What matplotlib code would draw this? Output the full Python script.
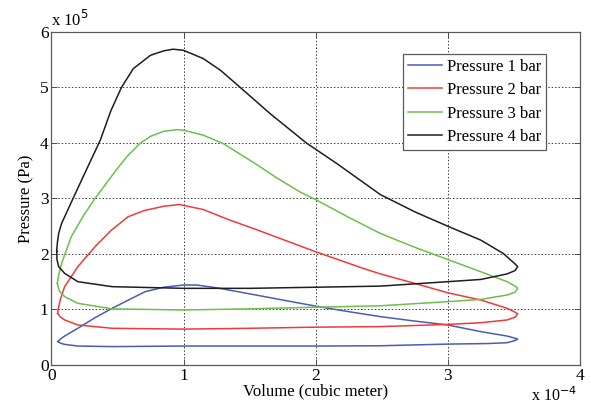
import matplotlib.pyplot as plt
from matplotlib.ticker import FuncFormatter, MultipleLocator

# PV loops, volume in 1e-4 m^3 and pressure in 1e5 Pa
vol_1bar = [0.05, 0.07, 0.1, 0.2, 0.33, 0.46, 0.6, 0.71, 0.85, 1.0, 1.1, 1.25, 1.48, 1.75,
            2.0, 2.25, 2.49, 2.75, 3.0, 3.25, 3.45, 3.51, 3.53,
            3.51, 3.45, 3.3, 3.0, 2.49, 2.0, 1.5, 1.0, 0.46, 0.2, 0.1, 0.07, 0.05]
pres_1bar = [0.42, 0.47, 0.52, 0.66, 0.85, 1.02, 1.19, 1.32, 1.40, 1.44, 1.44, 1.39, 1.29, 1.17,
             1.06, 0.96, 0.87, 0.79, 0.72, 0.60, 0.52, 0.48, 0.465,
             0.44, 0.40, 0.385, 0.375, 0.345, 0.34, 0.34, 0.34, 0.33, 0.34, 0.37, 0.39, 0.42]

vol_2bar = [0.047, 0.055, 0.07, 0.1, 0.2, 0.33, 0.45, 0.58, 0.7, 0.85, 0.97, 1.15, 1.35, 1.55,
            1.73, 2.0, 2.36, 2.49, 2.75, 3.0, 3.25, 3.45, 3.51, 3.53,
            3.51, 3.45, 3.25, 3.0, 2.49, 2.0, 1.5, 1.0, 0.46, 0.2, 0.1, 0.065, 0.047]
pres_2bar = [0.93, 1.05, 1.20, 1.41, 1.77, 2.13, 2.42, 2.67, 2.78, 2.86, 2.89, 2.80, 2.61, 2.44,
             2.28, 2.04, 1.74, 1.64, 1.47, 1.30, 1.17, 1.02, 0.95, 0.92,
             0.86, 0.81, 0.76, 0.73, 0.69, 0.68, 0.66, 0.645, 0.66, 0.72, 0.81, 0.87, 0.93]

vol_3bar = [0.045, 0.055, 0.077, 0.15, 0.24, 0.33, 0.49, 0.57, 0.67, 0.75, 0.85, 0.95, 1.0,
            1.15, 1.3, 1.555, 1.7, 1.88, 2.0, 2.25, 2.49, 2.75, 3.0, 3.25, 3.45, 3.51, 3.53,
            3.51, 3.45, 3.25, 3.0, 2.49, 2.0, 1.5, 1.0, 0.46, 0.2, 0.1, 0.06, 0.045]
pres_3bar = [1.47, 1.62, 1.83, 2.31, 2.68, 3.0, 3.51, 3.75, 3.99, 4.12, 4.21, 4.24, 4.23,
             4.14, 3.99, 3.61, 3.38, 3.12, 2.98, 2.66, 2.37, 2.12, 1.90, 1.68, 1.50, 1.42, 1.38,
             1.31, 1.26, 1.18, 1.14, 1.065, 1.04, 1.01, 0.99, 1.01, 1.11, 1.23, 1.33, 1.47]

vol_4bar = [0.04, 0.045, 0.055, 0.077, 0.16, 0.24, 0.37, 0.45, 0.53, 0.62, 0.75, 0.85, 0.92,
            1.0, 1.15, 1.28, 1.43, 1.655, 1.93, 2.16, 2.49, 2.75, 3.0, 3.25, 3.42, 3.51, 3.53,
            3.51, 3.45, 3.25, 3.0, 2.49, 2.0, 1.5, 1.0, 0.46, 0.2, 0.1, 0.055, 0.042, 0.04]
pres_4bar = [2.05, 2.20, 2.37, 2.55, 2.98, 3.39, 4.05, 4.58, 5.0, 5.34, 5.58, 5.66, 5.69,
             5.67, 5.52, 5.31, 5.0, 4.53, 4.0, 3.63, 3.07, 2.76, 2.50, 2.25, 2.01, 1.82, 1.77,
             1.70, 1.64, 1.54, 1.50, 1.42, 1.40, 1.38, 1.38, 1.41, 1.50, 1.65, 1.77, 1.90, 2.05]

labels = ['Pressure 1 bar', 'Pressure 2 bar', 'Pressure 3 bar', 'Pressure 4 bar']
colors = ['#4a5cb4', '#f03a3a', '#6cc04a', '#1e1e1e']

V_SCALE = 1e-4
P_SCALE = 1e5

plt.rcParams['font.family'] = 'Liberation Serif'
plt.rcParams['font.size'] = 11

fig = plt.figure(figsize=(5.91, 4.05), dpi=100)
ax = fig.add_axes([0.087, 0.099, 0.894, 0.822])

series = [(vol_1bar, pres_1bar), (vol_2bar, pres_2bar),
          (vol_3bar, pres_3bar), (vol_4bar, pres_4bar)]
for (v, p), lab, c in zip(series, labels, colors):
    ax.plot([x * V_SCALE for x in v], [y * P_SCALE for y in p], color=c, lw=1.1,
            label=lab, solid_joinstyle='round')

ax.set_xlim(0, 4 * V_SCALE)
ax.set_ylim(0, 6 * P_SCALE)
ax.xaxis.set_major_locator(MultipleLocator(V_SCALE))
ax.yaxis.set_major_locator(MultipleLocator(P_SCALE))
ax.xaxis.set_major_formatter(FuncFormatter(lambda x, _: f'{x / V_SCALE:g}'))
ax.yaxis.set_major_formatter(FuncFormatter(lambda y, _: f'{y / P_SCALE:g}'))

ax.grid(True, color='0.25', linestyle=(0, (1.5, 2)), lw=0.7)
ax.tick_params(direction='in', top=True, right=True, length=4, width=0.7,
               color='0.3', labelsize=12.5, pad=2)
for s in ax.spines.values():
    s.set_color('0.35')
    s.set_linewidth(0.9)

ax.set_xlabel('Volume (cubic meter)', fontsize=12, labelpad=0)
ax.set_ylabel('Pressure (Pa)', fontsize=12, labelpad=4)

ax.text(0.0, 1.005, r'x 10$^{5}$', transform=ax.transAxes, ha='left', va='bottom', fontsize=12)
ax.text(0.995, -0.065, r'x 10$^{-4}$', transform=ax.transAxes, ha='right', va='top',
        fontsize=11.5)

leg = ax.legend(loc='upper right', bbox_to_anchor=(0.936, 0.935), fontsize=12,
                frameon=True, fancybox=False, framealpha=1, edgecolor='0.35',
                handlelength=2.0, handletextpad=0.3, borderpad=0.3, labelspacing=0.45,
                borderaxespad=0)
leg.get_frame().set_linewidth(0.9)

fig.savefig('out.png', dpi=100)
